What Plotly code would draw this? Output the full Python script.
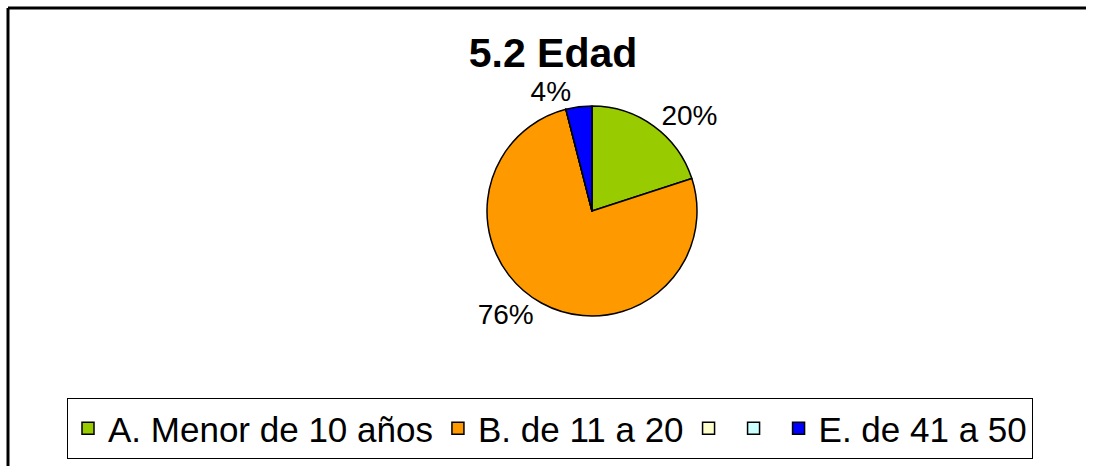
import plotly.graph_objects as go

labels = ["A. Menor de 10 años", "B. de 11 a 20", "\u200b", "\u200c", "E. de 41 a 50"]
values = [20, 76, 0, 0, 4]
colors = ["#99CC00", "#FF9900", "#FFFFCC", "#CCFFFF", "#0000FF"]
texts = [f"{v}%" if v > 0 else "" for v in values]

W, H = 1094, 466
FONT = "Arial, Liberation Sans, sans-serif"

fig = go.Figure(go.Pie(
    labels=labels,
    values=values,
    text=texts,
    textinfo="text",
    textposition="outside",
    sort=False,
    direction="clockwise",
    rotation=0,
    marker=dict(colors=colors, line=dict(color="black", width=1.5)),
    textfont=dict(family=FONT, size=28, color="black"),
    domain=dict(x=[487 / W, 697 / W], y=[1 - 316 / H, 1 - 106 / H]),
    showlegend=True,
    hoverinfo="label+percent",
))

border = dict(color="black", width=3)
fig.update_layout(
    width=W, height=H,
    margin=dict(l=0, r=0, t=0, b=0),
    paper_bgcolor="white",
    plot_bgcolor="white",
    title=dict(text="<b>5.2 Edad</b>", x=553 / W, xanchor="center",
               y=1 - 53 / H, yanchor="middle",
               font=dict(family=FONT, size=41, color="black")),
    legend=dict(orientation="h", x=550 / W, xanchor="center",
                y=1 - 398 / H, yanchor="top",
                bordercolor="black", borderwidth=1,
                font=dict(family=FONT, size=35, color="black"),
                traceorder="normal"),
    shapes=[
        dict(type="line", xref="paper", yref="paper",
             x0=8 / W, x1=8 / W, y0=0, y1=1 - 8 / H, line=border),
        dict(type="line", xref="paper", yref="paper",
             x0=8 / W, x1=1086 / W, y0=1 - 8 / H, y1=1 - 8 / H, line=border),
    ],
)

fig.write_html(
    "out.html",
    config={"displayModeBar": False},
    post_script="document.body.style.margin='0';document.body.style.overflow='hidden';",
)
